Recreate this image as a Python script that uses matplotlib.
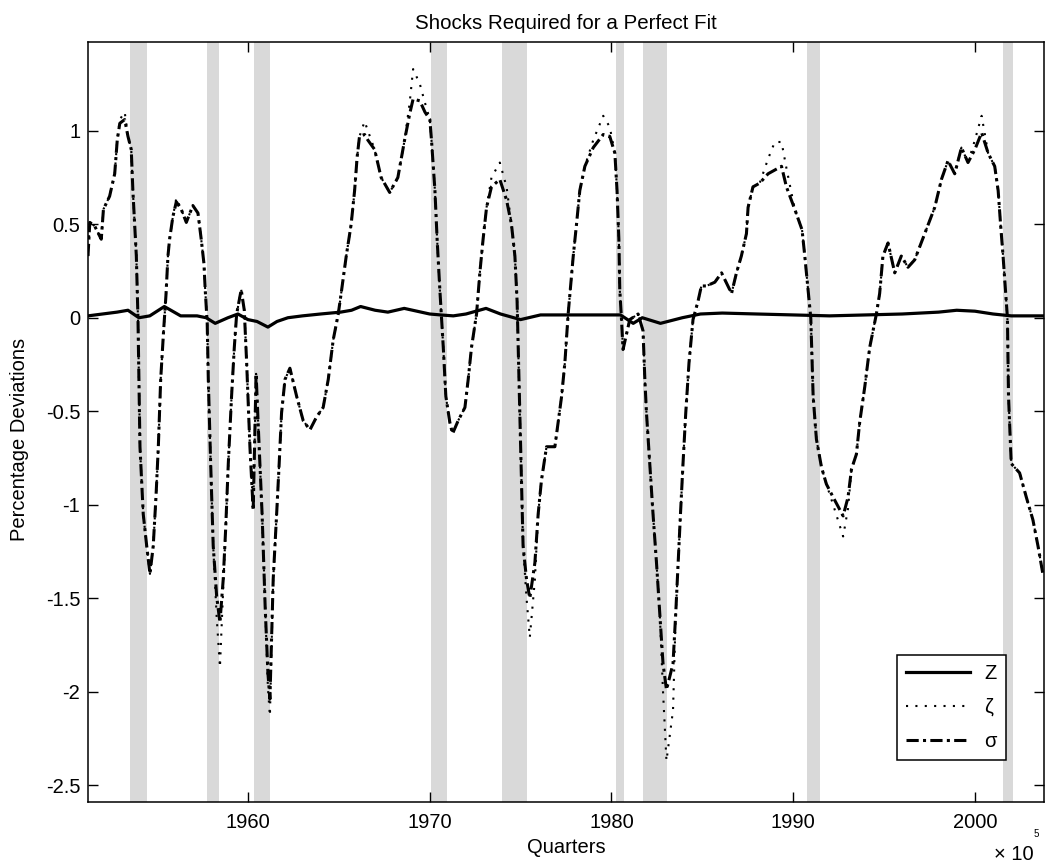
import matplotlib
matplotlib.use('Agg')
import matplotlib.pyplot as plt

plt.rcParams['font.family'] = ['Liberation Sans', 'DejaVu Sans']

# recession bands (start, end) in years
rec_start = [1953.5, 1957.75, 1960.33, 1970.05, 1974.0, 1980.25, 1981.72, 1990.77, 2001.55]
rec_end = [1954.43, 1958.4, 1961.2, 1970.95, 1975.33, 1980.7, 1983.07, 1991.45, 2002.08]

# dates for sigma / gamma traces
t_shock = [1951.20, 1951.30, 1951.57, 1951.93, 1952.05, 1952.39, 1952.67, 1952.81, 1952.95, 1953.22,
           1953.40, 1953.58, 1953.67, 1953.86, 1953.95, 1954.00, 1954.06, 1954.24, 1954.43, 1954.61,
           1954.79, 1954.94, 1955.07, 1955.20, 1955.36, 1955.49, 1955.60, 1955.69, 1955.87, 1956.06,
           1956.33, 1956.61, 1956.97, 1957.25, 1957.43, 1957.58, 1957.65, 1957.76, 1957.82, 1957.95,
           1958.09, 1958.28, 1958.46, 1958.64, 1958.77, 1958.92, 1959.10, 1959.25, 1959.38, 1959.63,
           1959.80, 1959.93, 1960.11, 1960.29, 1960.45, 1960.60, 1960.78, 1960.95, 1961.10, 1961.21,
           1961.39, 1961.58, 1961.72, 1961.85, 1962.04, 1962.31, 1962.68, 1963.04, 1963.41, 1963.78,
           1964.14, 1964.42, 1964.69, 1964.97, 1965.13, 1965.41, 1965.68, 1965.87, 1966.01, 1966.14,
           1966.42, 1966.60, 1966.97, 1967.33, 1967.80, 1968.25, 1968.62, 1968.90, 1969.09, 1969.46,
           1969.74, 1970.01, 1970.10, 1970.29, 1970.41, 1970.56, 1970.65, 1970.75, 1970.89, 1971.11,
           1971.26, 1971.57, 1971.94, 1972.12, 1972.30, 1972.58, 1972.76, 1972.94, 1973.13, 1973.40,
           1973.86, 1974.23, 1974.50, 1974.69, 1974.81, 1974.87, 1974.96, 1975.05, 1975.14, 1975.33,
           1975.51, 1975.79, 1975.97, 1976.15, 1976.43, 1976.89, 1977.07, 1977.26, 1977.44, 1977.62,
           1977.90, 1978.08, 1978.26, 1978.54, 1979.00, 1979.55, 1979.91, 1980.19, 1980.31, 1980.41,
           1980.46, 1980.55, 1980.64, 1981.01, 1981.47, 1981.74, 1981.84, 1981.93, 1982.11, 1982.29,
           1982.48, 1982.66, 1982.84, 1983.03, 1983.39, 1983.54, 1983.67, 1983.80, 1983.94, 1984.09,
           1984.27, 1984.49, 1984.77, 1984.95, 1985.23, 1985.69, 1986.06, 1986.61, 1986.88, 1987.15,
           1987.43, 1987.52, 1987.79, 1988.16, 1988.62, 1988.99, 1989.36, 1989.63, 1990.09, 1990.49,
           1990.64, 1990.82, 1990.97, 1991.10, 1991.28, 1991.56, 1991.83, 1992.20, 1992.75, 1993.02,
           1993.21, 1993.48, 1993.66, 1993.94, 1994.21, 1994.58, 1994.76, 1994.94, 1995.22, 1995.59,
           1995.95, 1996.32, 1996.69, 1997.24, 1997.79, 1998.16, 1998.52, 1998.89, 1999.26, 1999.62,
           2000.00, 2000.37, 2000.73, 2001.09, 2001.28, 2001.42, 2001.55, 2001.68, 2001.79, 2001.85,
           2002.00, 2002.46, 2002.83, 2003.19, 2003.47, 2003.74]

sigma = [0.33, 0.51, 0.49, 0.42, 0.58, 0.65, 0.77, 0.95, 1.04, 1.06,
         0.97, 0.90, 0.68, 0.33, 0.00, -0.33, -0.69, -1.05, -1.22, -1.37,
         -1.22, -0.96, -0.69, -0.33, -0.07, 0.12, 0.33, 0.42, 0.54, 0.62,
         0.58, 0.51, 0.60, 0.56, 0.42, 0.29, 0.15, -0.03, -0.33, -0.78,
         -1.22, -1.49, -1.63, -1.40, -1.14, -0.78, -0.42, -0.16, 0.02, 0.15,
         0.04, -0.24, -0.69, -1.03, -0.30, -0.65, -1.05, -1.55, -1.90, -2.04,
         -1.40, -1.05, -0.78, -0.51, -0.33, -0.27, -0.42, -0.55, -0.60, -0.53,
         -0.48, -0.33, -0.12, 0.02, 0.13, 0.33, 0.50, 0.68, 0.86, 0.97,
         0.98, 0.95, 0.90, 0.75, 0.67, 0.75, 0.95, 1.09, 1.17, 1.16,
         1.10, 1.06, 0.95, 0.68, 0.42, 0.15, 0.00, -0.16, -0.42, -0.56,
         -0.62, -0.55, -0.48, -0.33, -0.16, 0.02, 0.24, 0.42, 0.59, 0.70,
         0.74, 0.63, 0.50, 0.33, 0.09, -0.16, -0.51, -0.87, -1.22, -1.40,
         -1.50, -1.31, -1.05, -0.87, -0.69, -0.69, -0.56, -0.42, -0.24, 0.02,
         0.33, 0.50, 0.68, 0.81, 0.91, 0.98, 0.97, 0.88, 0.68, 0.42,
         0.15, 0.00, -0.17, -0.01, 0.02, -0.07, -0.33, -0.51, -0.78, -1.05,
         -1.31, -1.58, -1.85, -1.99, -1.85, -1.58, -1.31, -1.05, -0.78, -0.51,
         -0.24, -0.01, 0.09, 0.17, 0.17, 0.19, 0.24, 0.13, 0.24, 0.33,
         0.45, 0.59, 0.70, 0.72, 0.77, 0.79, 0.81, 0.70, 0.58, 0.47,
         0.33, 0.15, 0.00, -0.42, -0.65, -0.80, -0.89, -0.96, -1.06, -0.96,
         -0.81, -0.73, -0.56, -0.37, -0.16, 0.02, 0.13, 0.33, 0.40, 0.24,
         0.33, 0.27, 0.31, 0.45, 0.59, 0.74, 0.84, 0.77, 0.91, 0.83,
         0.90, 0.99, 0.88, 0.81, 0.68, 0.49, 0.33, 0.15, 0.00, -0.42,
         -0.78, -0.83, -0.96, -1.08, -1.22, -1.37]

gamma = [0.33, 0.51, 0.49, 0.42, 0.58, 0.65, 0.77, 0.95, 1.06, 1.10,
         0.97, 0.90, 0.68, 0.33, 0.00, -0.33, -0.69, -1.05, -1.22, -1.37,
         -1.22, -0.96, -0.69, -0.33, -0.07, 0.12, 0.33, 0.42, 0.54, 0.64,
         0.58, 0.51, 0.60, 0.56, 0.42, 0.29, 0.15, -0.03, -0.33, -0.78,
         -1.22, -1.60, -1.87, -1.45, -1.14, -0.78, -0.42, -0.16, 0.02, 0.15,
         0.04, -0.24, -0.69, -1.03, -0.30, -0.65, -1.05, -1.55, -1.98, -2.13,
         -1.40, -1.05, -0.78, -0.51, -0.33, -0.27, -0.42, -0.55, -0.60, -0.53,
         -0.48, -0.33, -0.12, 0.02, 0.13, 0.33, 0.50, 0.68, 0.86, 0.97,
         1.05, 1.00, 0.90, 0.75, 0.67, 0.75, 0.95, 1.15, 1.33, 1.25,
         1.15, 1.06, 0.95, 0.68, 0.42, 0.15, 0.00, -0.16, -0.42, -0.56,
         -0.62, -0.55, -0.48, -0.33, -0.16, 0.02, 0.24, 0.42, 0.59, 0.75,
         0.83, 0.70, 0.50, 0.33, 0.09, -0.16, -0.51, -0.87, -1.22, -1.50,
         -1.71, -1.40, -1.05, -0.87, -0.69, -0.69, -0.56, -0.42, -0.24, 0.02,
         0.33, 0.50, 0.68, 0.81, 0.95, 1.08, 1.02, 0.88, 0.68, 0.42,
         0.15, 0.00, -0.17, -0.01, 0.02, -0.07, -0.33, -0.51, -0.78, -1.05,
         -1.31, -1.58, -2.00, -2.37, -2.10, -1.58, -1.31, -1.05, -0.78, -0.51,
         -0.24, -0.01, 0.09, 0.17, 0.17, 0.19, 0.24, 0.13, 0.24, 0.33,
         0.45, 0.59, 0.70, 0.72, 0.85, 0.94, 0.94, 0.80, 0.58, 0.47,
         0.33, 0.15, 0.00, -0.42, -0.65, -0.80, -0.89, -1.00, -1.17, -1.02,
         -0.81, -0.73, -0.56, -0.37, -0.16, 0.02, 0.13, 0.33, 0.40, 0.24,
         0.33, 0.27, 0.31, 0.45, 0.59, 0.74, 0.84, 0.77, 0.91, 0.83,
         0.95, 1.08, 0.88, 0.81, 0.68, 0.49, 0.33, 0.15, 0.00, -0.42,
         -0.78, -0.83, -0.96, -1.08, -1.22, -1.37]

# technology shock Z
t_z = [1951.2, 1952.0, 1952.8, 1953.4, 1954.0, 1954.6, 1955.4, 1956.3, 1957.2, 1957.7,
       1958.2, 1958.9, 1959.45, 1960.0, 1960.5, 1961.1, 1961.6, 1962.2, 1963.0, 1964.0,
       1965.1, 1965.7, 1966.2, 1967.0, 1967.7, 1968.6, 1969.3, 1970.0, 1970.6, 1971.3,
       1972.0, 1973.1, 1973.9, 1975.0, 1976.1, 1977.6, 1979.4, 1980.5, 1981.2, 1981.7,
       1982.7, 1983.9, 1984.9, 1986.1, 1988.0, 1990.0, 1992.0, 1994.0, 1996.0, 1998.0,
       1999.0, 2000.0, 2001.0, 2002.0, 2003.8]
z = [0.01, 0.02, 0.03, 0.04, 0.00, 0.01, 0.06, 0.01, 0.01, 0.00,
     -0.03, 0.00, 0.02, -0.01, -0.02, -0.05, -0.02, 0.00, 0.01, 0.02,
     0.03, 0.04, 0.06, 0.04, 0.03, 0.05, 0.035, 0.02, 0.015, 0.01,
     0.02, 0.05, 0.02, -0.01, 0.015, 0.015, 0.015, 0.015, -0.03, 0.00,
     -0.03, 0.00, 0.02, 0.025, 0.02, 0.015, 0.01, 0.015, 0.02, 0.03,
     0.04, 0.035, 0.02, 0.01, 0.01]

fig = plt.figure(figsize=(10.45, 8.67), dpi=100)
ax = fig.add_axes([0.0842, 0.075, 0.9148, 0.8766])

for a, b in zip(rec_start, rec_end):
    ax.axvspan(a, b, color='#d9d9d9', lw=0, zorder=0)

dashdot = (0, (4, 1.4, 1, 1.4))
l1, = ax.plot(t_z, z, color='k', lw=2.3, label='Z', zorder=3)
l2, = ax.plot(t_shock, gamma, color='k', lw=1.5, ls=(0, (1, 3.5)), label='ζ', zorder=2)
l3, = ax.plot(t_shock, sigma, color='k', lw=2.2, ls=dashdot, label='σ', zorder=2)

ax.set_xlim(1951.2, 2003.8)
ax.set_ylim(-2.59, 1.475)
ax.set_xticks([1960, 1970, 1980, 1990, 2000])
ax.set_yticks([-2.5, -2, -1.5, -1, -0.5, 0, 0.5, 1])
ax.set_yticklabels(['-2.5', '-2', '-1.5', '-1', '-0.5', '0', '0.5', '1'])
ax.tick_params(direction='in', top=True, right=True, length=7, width=1, labelsize=14.5)
ax.tick_params(axis='x', pad=8)
ax.tick_params(axis='y', pad=5.5)
for s in ax.spines.values():
    s.set_linewidth(1.1)

ax.set_title('Shocks Required for a Perfect Fit', fontsize=14.8, pad=9)
ax.set_xlabel('Quarters', fontsize=14.5, labelpad=4)
ax.set_ylabel('Percentage Deviations', fontsize=14.5)
ax.yaxis.set_label_coords(-0.062, 0.477)

fig.text(0.951, 0.008, '× 10', fontsize=14.5)
fig.text(0.989, 0.035, '5', fontsize=7)

leg = ax.legend(handles=[l1, l2, l3], loc='lower right', bbox_to_anchor=(0.960, 0.0553),
                borderaxespad=0, fontsize=14.5, handlelength=3.2, fancybox=False, edgecolor='k',
                framealpha=1, borderpad=0.45, labelspacing=0.75, handletextpad=0.7)
leg.get_frame().set_linewidth(1.1)

fig.savefig('out.png', dpi=100)
